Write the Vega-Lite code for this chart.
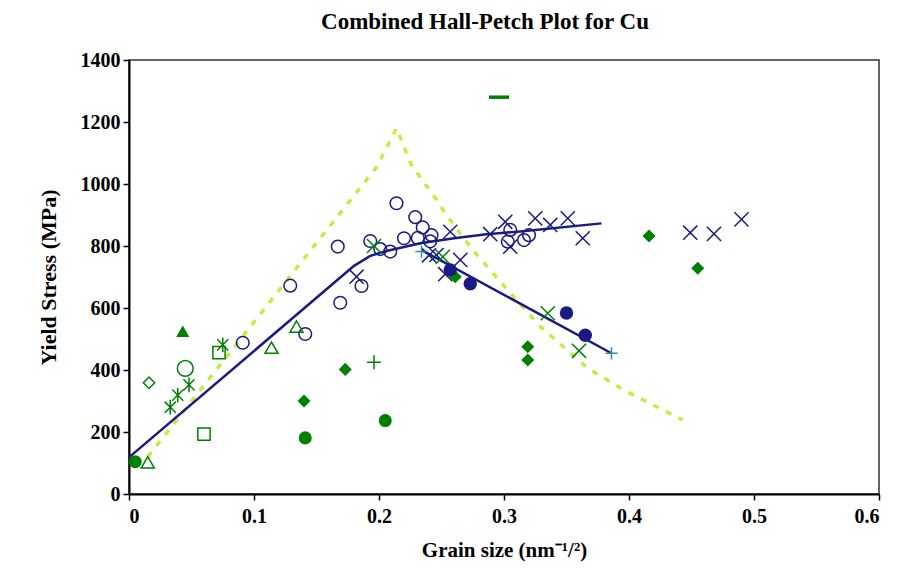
{
  "$schema": "https://vega.github.io/schema/vega-lite/v6.json",
  "width": 750,
  "height": 434,
  "autosize": {"type": "none"},
  "padding": {"left": 129, "top": 60, "right": 39, "bottom": 81},
  "background": "white",
  "title": {
    "text": "Combined Hall-Petch Plot for Cu",
    "font": "Liberation Serif",
    "fontSize": 23,
    "fontWeight": "bold",
    "color": "black",
    "anchor": "middle",
    "dx": -19,
    "offset": 16
  },
  "config": {
    "view": {"stroke": "#333333", "strokeWidth": 1.5},
    "font": "Liberation Serif",
    "axis": {
      "grid": false,
      "domainColor": "black",
      "domainWidth": 2,
      "tickColor": "black",
      "tickWidth": 1.5,
      "tickSize": 6,
      "labelFont": "Liberation Serif",
      "labelFontWeight": "bold",
      "labelFontSize": 20,
      "labelColor": "black",
      "titleFont": "Liberation Serif",
      "titleFontWeight": "bold",
      "titleFontSize": 22,
      "titleColor": "black"
    }
  },
  "datasets": {
    "lines": [
      {"s": "Y", "x": 0.015, "y": 120},
      {"s": "Y", "x": 0.137, "y": 744},
      {"s": "Y", "x": 0.198, "y": 1054},
      {"s": "Y", "x": 0.214, "y": 1180},
      {"s": "Y", "x": 0.226, "y": 1061},
      {"s": "Y", "x": 0.245, "y": 955},
      {"s": "Y", "x": 0.254, "y": 900},
      {"s": "Y", "x": 0.274, "y": 792},
      {"s": "Y", "x": 0.297, "y": 685},
      {"s": "Y", "x": 0.329, "y": 540},
      {"s": "Y", "x": 0.367, "y": 406},
      {"s": "Y", "x": 0.397, "y": 333},
      {"s": "Y", "x": 0.443, "y": 239},
      {"s": "B1", "x": 0.0, "y": 118},
      {"s": "B1", "x": 0.180, "y": 736},
      {"s": "B1", "x": 0.193, "y": 768},
      {"s": "B1", "x": 0.206, "y": 784},
      {"s": "B1", "x": 0.233, "y": 809},
      {"s": "B1", "x": 0.260, "y": 825},
      {"s": "B1", "x": 0.286, "y": 838},
      {"s": "B1", "x": 0.313, "y": 847},
      {"s": "B1", "x": 0.378, "y": 873},
      {"s": "B2", "x": 0.234, "y": 787},
      {"s": "B2", "x": 0.386, "y": 454}
    ],
    "pts": [
      {"s": "A", "x": 0.005, "y": 104},
      {"s": "A", "x": 0.141, "y": 181},
      {"s": "A", "x": 0.205, "y": 237},
      {"s": "B", "x": 0.257, "y": 723},
      {"s": "B", "x": 0.273, "y": 678},
      {"s": "B", "x": 0.350, "y": 584},
      {"s": "B", "x": 0.365, "y": 512},
      {"s": "C", "x": 0.091, "y": 488},
      {"s": "C", "x": 0.129, "y": 672},
      {"s": "C", "x": 0.141, "y": 516},
      {"s": "C", "x": 0.167, "y": 798},
      {"s": "C", "x": 0.169, "y": 617},
      {"s": "C", "x": 0.186, "y": 671},
      {"s": "C", "x": 0.193, "y": 816},
      {"s": "C", "x": 0.201, "y": 790},
      {"s": "C", "x": 0.209, "y": 782},
      {"s": "C", "x": 0.214, "y": 938},
      {"s": "C", "x": 0.220, "y": 825},
      {"s": "C", "x": 0.229, "y": 893},
      {"s": "C", "x": 0.231, "y": 826},
      {"s": "C", "x": 0.235, "y": 860},
      {"s": "C", "x": 0.241, "y": 815},
      {"s": "C", "x": 0.242, "y": 835},
      {"s": "C", "x": 0.305, "y": 852},
      {"s": "C", "x": 0.303, "y": 814},
      {"s": "C", "x": 0.316, "y": 819},
      {"s": "C", "x": 0.320, "y": 835},
      {"s": "D", "x": 0.182, "y": 701},
      {"s": "D", "x": 0.240, "y": 770},
      {"s": "D", "x": 0.246, "y": 771},
      {"s": "D", "x": 0.253, "y": 709},
      {"s": "D", "x": 0.257, "y": 846},
      {"s": "D", "x": 0.265, "y": 755},
      {"s": "D", "x": 0.289, "y": 838},
      {"s": "D", "x": 0.301, "y": 878},
      {"s": "D", "x": 0.305, "y": 798},
      {"s": "D", "x": 0.325, "y": 889},
      {"s": "D", "x": 0.337, "y": 868},
      {"s": "D", "x": 0.351, "y": 889},
      {"s": "D", "x": 0.363, "y": 825},
      {"s": "D", "x": 0.449, "y": 843},
      {"s": "D", "x": 0.468, "y": 839},
      {"s": "D", "x": 0.490, "y": 886},
      {"s": "E", "x": 0.196, "y": 800},
      {"s": "E", "x": 0.251, "y": 765},
      {"s": "E", "x": 0.335, "y": 583},
      {"s": "E", "x": 0.360, "y": 462},
      {"s": "F", "x": 0.033, "y": 280},
      {"s": "F", "x": 0.039, "y": 319},
      {"s": "F", "x": 0.048, "y": 352},
      {"s": "F", "x": 0.075, "y": 481},
      {"s": "G", "x": 0.060, "y": 193},
      {"s": "G", "x": 0.072, "y": 456},
      {"s": "H", "x": 0.015, "y": 102},
      {"s": "H", "x": 0.114, "y": 472},
      {"s": "H", "x": 0.134, "y": 540},
      {"s": "I", "x": 0.043, "y": 525},
      {"s": "J", "x": 0.045, "y": 405},
      {"s": "K", "x": 0.016, "y": 359},
      {"s": "L", "x": 0.140, "y": 300},
      {"s": "L", "x": 0.173, "y": 402},
      {"s": "L", "x": 0.261, "y": 701},
      {"s": "L", "x": 0.319, "y": 475},
      {"s": "L", "x": 0.319, "y": 432},
      {"s": "L", "x": 0.416, "y": 832},
      {"s": "L", "x": 0.455, "y": 728},
      {"s": "M", "x": 0.196, "y": 425},
      {"s": "N", "x": 0.234, "y": 782},
      {"s": "N", "x": 0.386, "y": 454},
      {"s": "O", "x": 0.296, "y": 1280}
    ]
  },
  "encoding": {
    "x": {
      "field": "x",
      "type": "quantitative",
      "scale": {"domain": [0, 0.6], "nice": false},
      "axis": {
        "values": [0, 0.1, 0.2, 0.3, 0.4, 0.5, 0.6],
        "format": "~g",
        "labelPadding": 6,
        "title": "Grain size (nm⁻¹/²)",
        "titleFontSize": 21,
        "titlePadding": 13
      }
    },
    "y": {
      "field": "y",
      "type": "quantitative",
      "scale": {"domain": [0, 1400], "nice": false},
      "axis": {
        "values": [0, 200, 400, 600, 800, 1000, 1200, 1400],
        "format": "d",
        "labelPadding": 3,
        "title": "Yield Stress (MPa)",
        "titlePadding": 20
      }
    }
  },
  "layer": [
    {
      "data": {"name": "lines"},
      "transform": [{"filter": "datum.s === 'Y'"}],
      "mark": {"type": "line", "color": "#c6ec44", "strokeWidth": 3.5, "strokeDash": [6, 8]}
    },
    {
      "data": {"name": "lines"},
      "transform": [{"filter": "datum.s === 'B1'"}],
      "mark": {"type": "line", "color": "#1a1a82", "strokeWidth": 2.5}
    },
    {
      "data": {"name": "lines"},
      "transform": [{"filter": "datum.s === 'B2'"}],
      "mark": {"type": "line", "color": "#1a1a82", "strokeWidth": 2.5}
    },
    {
      "data": {"name": "pts"},
      "transform": [{"filter": "datum.s === 'C'"}],
      "mark": {"type": "point", "shape": "circle", "filled": false, "color": "#1a1a82", "size": 160, "strokeWidth": 1.5, "opacity": 1}
    },
    {
      "data": {"name": "pts"},
      "transform": [{"filter": "datum.s === 'D'"}],
      "mark": {"type": "point", "shape": "M-1,-1L1,1M-1,1L1,-1", "filled": false, "color": "#1a1a82", "size": 200, "strokeWidth": 1.5, "opacity": 1}
    },
    {
      "data": {"name": "pts"},
      "transform": [{"filter": "datum.s === 'E'"}],
      "mark": {"type": "point", "shape": "M-1,-1L1,1M-1,1L1,-1", "filled": false, "color": "#008000", "size": 200, "strokeWidth": 1.5, "opacity": 1}
    },
    {
      "data": {"name": "pts"},
      "transform": [{"filter": "datum.s === 'F'"}],
      "mark": {"type": "point", "shape": "M-0.75,-0.75L0.75,0.75M-0.75,0.75L0.75,-0.75M0,-1L0,1", "filled": false, "color": "#008000", "size": 220, "strokeWidth": 1.5, "opacity": 1}
    },
    {
      "data": {"name": "pts"},
      "transform": [{"filter": "datum.s === 'G'"}],
      "mark": {"type": "point", "shape": "square", "filled": false, "color": "#008000", "size": 150, "strokeWidth": 1.5, "opacity": 1}
    },
    {
      "data": {"name": "pts"},
      "transform": [{"filter": "datum.s === 'H'"}],
      "mark": {"type": "point", "shape": "triangle-up", "filled": false, "color": "#008000", "size": 170, "strokeWidth": 1.5, "opacity": 1}
    },
    {
      "data": {"name": "pts"},
      "transform": [{"filter": "datum.s === 'I'"}],
      "mark": {"type": "point", "shape": "triangle-up", "filled": true, "color": "#008000", "size": 170, "opacity": 1}
    },
    {
      "data": {"name": "pts"},
      "transform": [{"filter": "datum.s === 'J'"}],
      "mark": {"type": "point", "shape": "circle", "filled": false, "color": "#008000", "size": 250, "strokeWidth": 1.5, "opacity": 1}
    },
    {
      "data": {"name": "pts"},
      "transform": [{"filter": "datum.s === 'K'"}],
      "mark": {"type": "point", "shape": "diamond", "filled": false, "color": "#008000", "size": 130, "strokeWidth": 1.5, "opacity": 1}
    },
    {
      "data": {"name": "pts"},
      "transform": [{"filter": "datum.s === 'L'"}],
      "mark": {"type": "point", "shape": "diamond", "filled": true, "color": "#008000", "size": 170, "opacity": 1}
    },
    {
      "data": {"name": "pts"},
      "transform": [{"filter": "datum.s === 'M'"}],
      "mark": {"type": "point", "shape": "M-1,0L1,0M0,-1L0,1", "filled": false, "color": "#008000", "size": 190, "strokeWidth": 1.5, "opacity": 1}
    },
    {
      "data": {"name": "pts"},
      "transform": [{"filter": "datum.s === 'N'"}],
      "mark": {"type": "point", "shape": "M-1,0L1,0M0,-1L0,1", "filled": false, "color": "#2f8f9a", "size": 150, "strokeWidth": 1.5, "opacity": 1}
    },
    {
      "data": {"name": "pts"},
      "transform": [{"filter": "datum.s === 'O'"}],
      "mark": {"type": "point", "shape": "M-1,0L1,0", "filled": false, "color": "#008000", "size": 400, "strokeWidth": 3.5, "opacity": 1}
    },
    {
      "data": {"name": "pts"},
      "transform": [{"filter": "datum.s === 'A'"}],
      "mark": {"type": "point", "shape": "circle", "filled": true, "color": "#008000", "size": 170, "opacity": 1}
    },
    {
      "data": {"name": "pts"},
      "transform": [{"filter": "datum.s === 'B'"}],
      "mark": {"type": "point", "shape": "circle", "filled": true, "color": "#1a1a82", "size": 180, "opacity": 1}
    }
  ]
}
